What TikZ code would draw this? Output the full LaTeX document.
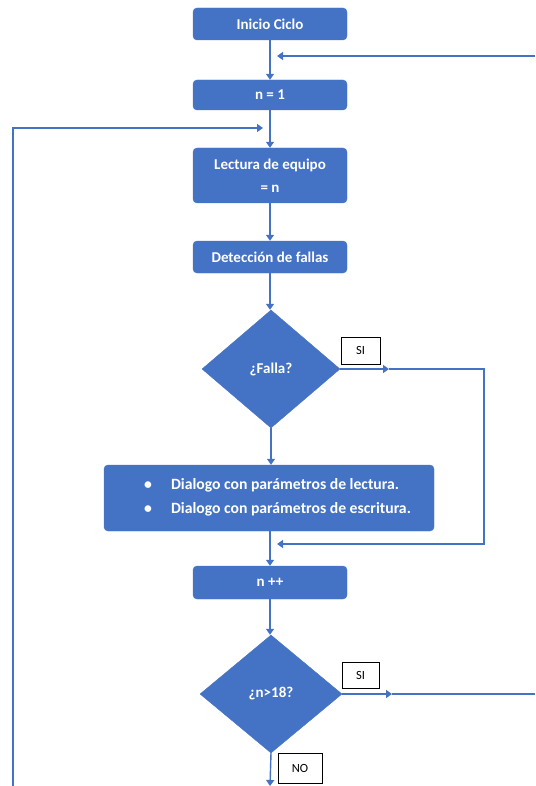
\documentclass[tikz,border=0pt]{standalone}
\usepackage{fontspec}
\setmainfont{Carlito}
\usetikzlibrary{shapes.geometric,arrows.meta}
\definecolor{flowblue}{HTML}{4472C4}
\tikzset{
  stepbox/.style={draw=flowblue, fill=flowblue, rounded corners=4pt, text=white,
    font=\fontsize{15}{23}\selectfont\bfseries, align=center, inner sep=0pt,
    minimum width=154pt},
  decide/.style={diamond, draw=flowblue, fill=flowblue, text=white,
    font=\fontsize{15}{17}\selectfont\bfseries, inner sep=0pt},
  tag/.style={draw=black, fill=white, line width=0.8pt, font=\fontsize{12.5}{14}\selectfont,
    inner sep=0pt},
  flow/.style={draw=flowblue, line width=1.4pt},
  tip/.style={-{Triangle[length=6pt,width=8pt]}}
}
\begin{document}
\begin{tikzpicture}[x=1pt,y=-1pt]
\useasboundingbox (0,0) rectangle (535,786);

% process steps
\node[stepbox, minimum height=32pt] (ini) at (270,24) {Inicio Ciclo};
\node[stepbox, minimum height=30pt] (n1) at (270,95) {n = 1};
\node[stepbox, minimum height=55pt] (lec) at (270,175.5) {Lectura de equipo\\= n};
\node[stepbox, minimum height=32pt] (det) at (270,257) {Detección de fallas};
\node[decide, minimum width=138pt, minimum height=118pt] (fal) at (271,369) {¿Falla?};
\node[stepbox, minimum width=330pt, minimum height=66pt] (dlg) at (269,498) {};
\node[anchor=west, text=white, font=\fontsize{15.7}{24}\selectfont\bfseries, inner sep=0pt]
  (dlgtxt) at (144,497)
  {\begin{tabular}{@{}l@{\hspace{19pt}}l@{}}
     \textbullet & Dialogo con parámetros de lectura.\\
     \textbullet & Dialogo con parámetros de escritura.
   \end{tabular}};
\node[stepbox, minimum height=33pt] (inc) at (270,582.5) {n ++};
\node[decide, minimum width=142pt, minimum height=118pt] (lim) at (271,694) {¿n>18?};

% branch labels
\node[tag, minimum width=39pt, minimum height=27pt] (si1) at (360.5,350.5) {SI};
\node[tag, minimum width=37pt, minimum height=26pt] (si2) at (360.5,675) {SI};
\node[tag, minimum width=44pt, minimum height=30pt] (no) at (300,768) {NO};

% free ends and bends
\coordinate (rin) at (535,56);
\coordinate (rtip) at (277,56);
\coordinate (lbot) at (13,786);
\coordinate (ltop) at (13,128);
\coordinate (ltip) at (263,128);
\coordinate (fmid) at (389,369);
\coordinate (fc1) at (484,369);
\coordinate (fc2) at (484,544);
\coordinate (ftip) at (277,544);
\coordinate (lmid) at (392,694);
\coordinate (lout) at (535,694);
\coordinate (lend) at (270,786);

% connectors
\draw[flow, tip] (ini) -- (n1);
\draw[flow, tip] (rin) -- (rtip);
\draw[flow, tip] (n1) -- (lec);
\draw[flow, tip] (lbot) -- (ltop) -- (ltip);
\draw[flow, tip] (lec) -- (det);
\draw[flow, tip] (det.south) -- (det.south |- fal.north);
\draw[flow, tip] (fal.south) -- (fal.south |- dlg.north);
\draw[flow, tip] (fal.east) -- (fmid);
\draw[flow, tip] (fmid) -- (fc1) -- (fc2) -- (ftip);
\draw[flow, tip] (dlg.south -| inc.north) -- (inc.north);
\draw[flow, tip] (inc.south) -- (inc.south |- lim.north);
\draw[flow, tip] (lim.east) -- (lmid);
\draw[flow] (lmid) -- (lout);
\draw[flow, tip] (lim.south) -- (lend);
\end{tikzpicture}
\end{document}
